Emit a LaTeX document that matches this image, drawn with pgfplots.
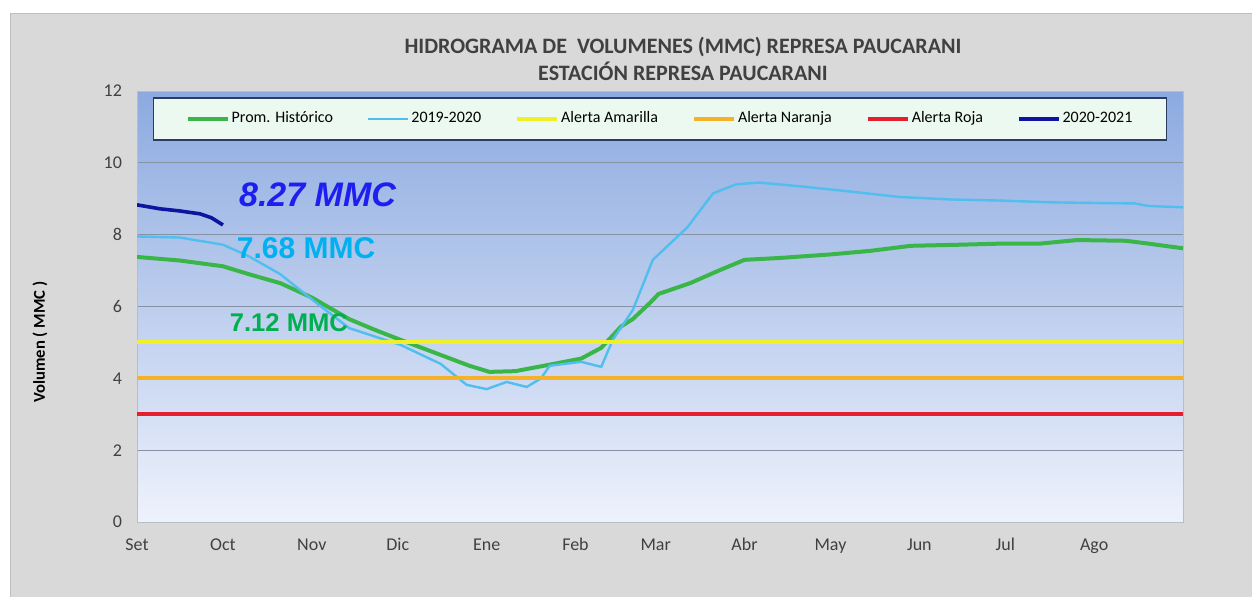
\documentclass[border=0pt]{standalone}
\usepackage{fontspec}
\setmainfont{Carlito}
\newfontfamily\arialf{Liberation Sans}
\usepackage{pgfplots}
\pgfplotsset{compat=1.18}

\definecolor{panelgray}{RGB}{217,217,217}
\definecolor{panelborder}{RGB}{190,190,190}
\definecolor{titlegray}{RGB}{64,64,64}
\definecolor{bgtop}{RGB}{140,170,224}
\definecolor{bgbot}{RGB}{238,242,252}
\definecolor{gridc}{RGB}{135,145,165}
\definecolor{promgreen}{RGB}{58,182,72}
\definecolor{lblue}{RGB}{80,190,238}
\definecolor{navy}{RGB}{12,20,160}
\definecolor{alyellow}{RGB}{240,240,40}
\definecolor{alorange}{RGB}{245,178,40}
\definecolor{alred}{RGB}{228,30,45}
\definecolor{legfill}{RGB}{236,249,240}
\definecolor{legdraw}{RGB}{40,60,100}
\definecolor{annblue}{RGB}{30,30,240}
\definecolor{anncyan}{RGB}{0,176,240}
\definecolor{anngreen}{RGB}{0,176,80}

\begin{document}
\begin{tikzpicture}[x=1pt,y=1pt]
\useasboundingbox (0,0) rectangle (626,298);
\fill[white] (0,0) rectangle (626,298);
\filldraw[fill=panelgray,draw=panelborder] (5,-1) rectangle (627,291.5);
\node[font=\bfseries\fontsize{11}{13.5}\selectfont,text=titlegray,align=center] at (341.5,268.5)
  {HIDROGRAMA DE\ \ VOLUMENES (MMC) REPRESA PAUCARANI\\ESTACIÓN REPRESA PAUCARANI};
\node[rotate=90,font=\bfseries\fontsize{8.3}{10}\selectfont] at (20,127) {Volumen ( MMC )};

\begin{axis}[
  at={(68.5pt,37pt)}, anchor=south west,
  scale only axis, width=523pt, height=215.5pt,
  xmin=0, xmax=365, ymin=0, ymax=12,
  axis background/.style={top color=bgtop,bottom color=bgbot},
  axis line style={draw=gridc!60},
  xtick={0,30,61,91,122,153,181,212,242,273,303,334},
  xticklabels={Set,Oct,Nov,Dic,Ene,Feb,Mar,Abr,May,Jun,Jul,Ago},
  ytick={0,2,...,12},
  ymajorgrids, grid style={draw=gridc,line width=0.5pt},
  major tick length=0pt,
  tick label style={font=\fontsize{9}{10}\selectfont,text=titlegray},
  xticklabel style={yshift=-4pt,text height=6.5pt,text depth=2pt},
  yticklabel style={xshift=-4pt},
  /pgf/number format/assume math mode=true,
  legend image code/.code={\draw[#1] (0pt,0pt) -- (20pt,0pt);},
  legend style={at={(0.5,0.986)},anchor=north,legend columns=6,
    fill=legfill,draw=legdraw,line width=0.8pt,
    font=\fontsize{8}{9.5}\selectfont,
    inner xsep=16pt,inner ysep=6pt,
    nodes={inner xsep=1pt,inner ysep=1pt},
    /tikz/every odd column/.append style={column sep=0pt},
    /tikz/every even column/.append style={column sep=16pt}},
  legend cell align=left,
]
\addplot[promgreen,line width=2pt] coordinates {
(0,7.38)(15,7.28)(30,7.12)(39,6.9)(50,6.65)(61,6.25)(74,5.65)(83,5.35)(92,5.07)
(106,4.65)(116,4.35)(123,4.18)(132,4.2)(142,4.35)(155,4.55)(162,4.85)(169,5.45)
(173,5.65)(179,6.1)(182,6.35)(193,6.65)(203,7.0)(212,7.3)(224,7.35)(242,7.45)
(256,7.55)(270,7.69)(287,7.72)(301,7.75)(315,7.75)(328,7.85)(345,7.83)(353,7.75)(365,7.62)};
\addlegendentry{Prom. Histórico}
\addplot[lblue,line width=1.2pt] coordinates {
(0,7.95)(15,7.92)(30,7.72)(39,7.4)(50,6.9)(61,6.2)(74,5.4)(92,4.93)(106,4.4)
(115,3.82)(122,3.7)(129,3.9)(136,3.76)(141,4.0)(144,4.35)(155,4.46)(162,4.32)
(166,5.07)(173,5.9)(180,7.3)(192,8.2)(201,9.15)(209,9.4)(217,9.45)(231,9.35)
(249,9.2)(266,9.05)(284,8.98)(301,8.95)(319,8.9)(336,8.88)(348,8.87)(353,8.8)(365,8.76)};
\addlegendentry{2019-2020}
\addplot[alyellow,line width=2pt] coordinates {(0,5)(365,5)};
\addlegendentry{Alerta Amarilla}
\addplot[alorange,line width=2pt] coordinates {(0,4)(365,4)};
\addlegendentry{Alerta Naranja}
\addplot[alred,line width=2pt] coordinates {(0,3)(365,3)};
\addlegendentry{Alerta Roja}
\addplot[navy,line width=1.8pt] coordinates {
(0,8.83)(8,8.72)(15,8.66)(22,8.58)(26,8.47)(30,8.27)};
\addlegendentry{2020-2021}

\node[font=\arialf\bfseries\itshape\fontsize{17}{20}\selectfont,text=annblue] at (axis cs:63,9.1) {8.27 MMC};
\node[font=\arialf\bfseries\fontsize{15}{18}\selectfont,text=anncyan] at (axis cs:59,7.63) {7.68 MMC};
\node[font=\arialf\bfseries\fontsize{12.8}{15}\selectfont,text=anngreen] at (axis cs:53,5.54) {7.12 MMC};
\end{axis}
\end{tikzpicture}
\end{document}
